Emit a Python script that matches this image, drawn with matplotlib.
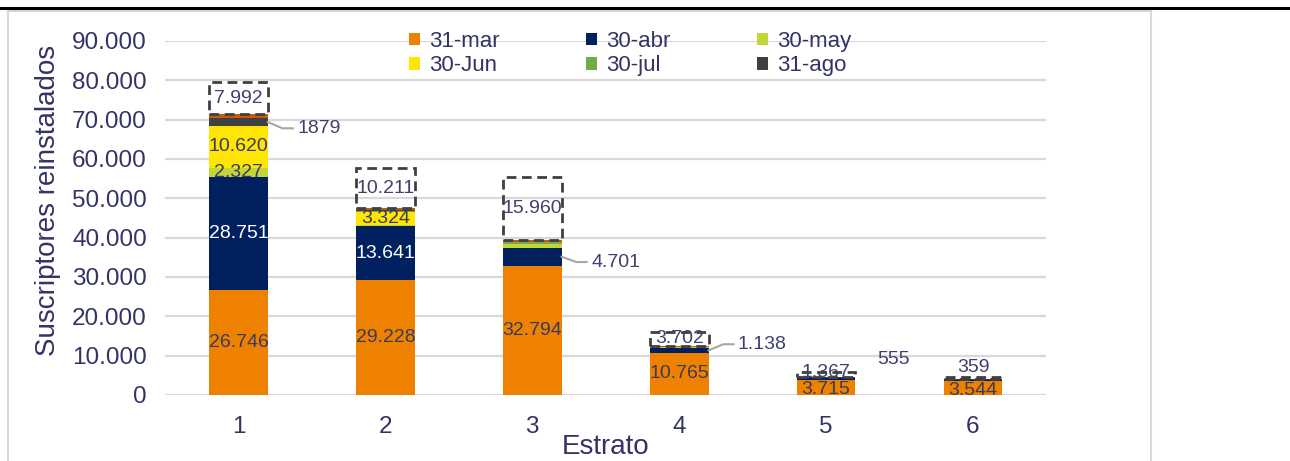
import matplotlib
matplotlib.use("Agg")
import matplotlib.pyplot as plt
import numpy as np
from matplotlib.patches import Patch, Rectangle
from matplotlib.lines import Line2D
from matplotlib.ticker import FuncFormatter

plt.rcParams['font.family'] = ['Liberation Sans', 'DejaVu Sans']

# Data
estratos = ['1', '2', '3', '4', '5', '6']
mar_31 = [26746, 29228, 32794, 10765, 3715, 3544]
abr_30 = [28751, 13641, 4701, 1138, 555, 150]
may_30 = [2327, 400, 800, 250, 100, 50]
jun_30 = [10620, 3324, 0, 0, 0, 100]
jul_30 = [0, 100, 700, 100, 0, 0]
ago_31 = [1879, 300, 0, 0, 100, 200]
extra = [1150, 500, 500, 150, 100, 100]
pendientes = [7992, 10211, 15960, 3702, 1367, 359]

series = [
    ('31-mar', mar_31, '#EE8200'),
    ('30-abr', abr_30, '#002060'),
    ('30-may', may_30, '#C2D63A'),
    ('30-Jun', jun_30, '#FFE600'),
    ('30-jul', jul_30, '#70AD47'),
    ('31-ago', ago_31, '#404040'),
    ('', extra, '#C55A11'),
]

txt_col = '#333366'
lbl_col = '#3A3A5C'
fs_lbl = 14

def miles(v):
    return f"{int(v):,}".replace(',', '.')

fig = plt.figure(figsize=(12.9, 4.61), dpi=100)
ax = fig.add_axes([0.1279, 0.1432, 0.6833, 0.7679])

x = np.arange(1, 7)
w = 0.4
bottom = np.zeros(6)
bottoms = {}
for name, vals, col in series:
    vals = np.array(vals, dtype=float)
    ax.bar(x, vals, w, bottom=bottom, color=col, zorder=3)
    bottoms[name] = bottom.copy()
    bottom = bottom + vals

# dashed outline series on top
ax.bar(x, pendientes, w, bottom=bottom, fill=False, edgecolor='#404040',
       linewidth=2, linestyle=(0, (3.5, 2)), zorder=4)

def seg_mid(name, vals, i):
    return bottoms[name][i] + vals[i] / 2

# labels inside segments
for i in range(6):
    ypos = seg_mid('31-mar', mar_31, i) if i < 4 else bottoms['31-mar'][i] + mar_31[i] * 0.35
    ax.text(x[i], ypos, miles(mar_31[i]), ha='center', va='center',
            fontsize=fs_lbl, color=lbl_col, zorder=5)

for i in [0, 1]:
    ax.text(x[i], seg_mid('30-abr', abr_30, i), miles(abr_30[i]),
            ha='center', va='center', fontsize=fs_lbl, color='white', zorder=5)

ax.text(x[0], seg_mid('30-may', may_30, 0), miles(may_30[0]),
        ha='center', va='center', fontsize=fs_lbl, color=lbl_col, zorder=5)
for i in [0, 1]:
    ax.text(x[i], seg_mid('30-Jun', jun_30, i), miles(jun_30[i]),
            ha='center', va='center', fontsize=fs_lbl, color=lbl_col, zorder=5)

# labels of dashed boxes
for i in range(5):
    ax.text(x[i], bottom[i] + pendientes[i] / 2 + (400 if i == 4 else 0), miles(pendientes[i]),
            ha='center', va='center', fontsize=fs_lbl, color='#404070', zorder=5)
ax.text(x[5], bottom[5] + pendientes[5] + 300, miles(pendientes[5]),
        ha='center', va='bottom', fontsize=fs_lbl, color='#404070', zorder=5)

# labels with leader lines
leader = '#A6A6A6'
def leader_label(i, ymid, ytxt, text):
    x0 = x[i] + w / 2
    ax.plot([x0, x0 + 0.1, x0 + 0.17], [ymid, ytxt, ytxt], color=leader, lw=1.5, zorder=5)
    ax.text(x0 + 0.2, ytxt, text, ha='left', va='center', fontsize=fs_lbl, color='#404070', zorder=5)

leader_label(0, seg_mid('31-ago', ago_31, 0), 67800, str(ago_31[0]))
leader_label(2, seg_mid('30-abr', abr_30, 2), 33800, miles(abr_30[2]))
leader_label(3, seg_mid('30-abr', abr_30, 3), 12900, miles(abr_30[3]))
ax.text(5.456, 8900, str(abr_30[4]), ha='center', va='center', fontsize=fs_lbl, color='#404070', zorder=5)

# axes styling
ax.set_xlim(0.5, 6.5)
ax.set_ylim(0, 90000)
ax.set_yticks(np.arange(0, 90001, 10000))
ax.yaxis.set_major_formatter(FuncFormatter(lambda v, p: miles(v)))
ax.set_xticks(x)
ax.set_xticklabels(estratos)
ax.yaxis.grid(True, color='#D9D9D9', linewidth=1.6, zorder=0)
ax.set_axisbelow(True)
for s in ax.spines.values():
    s.set_visible(False)
ax.tick_params(axis='y', length=0, pad=13, labelsize=17.5, labelcolor=txt_col)
ax.tick_params(axis='x', length=0, pad=15, labelsize=17.5, labelcolor=txt_col)
ax.set_xlabel('Estrato', fontsize=20, color=txt_col, labelpad=-3)
ax.set_ylabel('Suscriptores reinstalados', fontsize=20, color=txt_col)
ax.yaxis.set_label_coords(-0.118, 0.55)

# legend (3 columns, row-wise order)
order = [0, 3, 1, 4, 2, 5]
handles = [Patch(facecolor=series[k][2], label=series[k][0]) for k in order]
fig.legend(handles=handles, loc='upper left', bbox_to_anchor=(409 / 1290, 1 - 31 / 461),
           ncol=3, frameon=False, fontsize=16, handlelength=0.5, handleheight=0.5,
           handletextpad=0.4, columnspacing=3.9, labelspacing=0.15, labelcolor=txt_col,
           borderaxespad=0, borderpad=0)

# outer frame lines
fig.add_artist(Line2D([0, 1], [1 - 8 / 461, 1 - 8 / 461], color='black', lw=2.2))
fig.add_artist(Rectangle((8 / 1290, -0.05), (1151 - 8) / 1290, 1.05 - 11 / 461,
                         fill=False, edgecolor='#D9D9D9', lw=1.5))

fig.savefig('out.png', dpi=100)
